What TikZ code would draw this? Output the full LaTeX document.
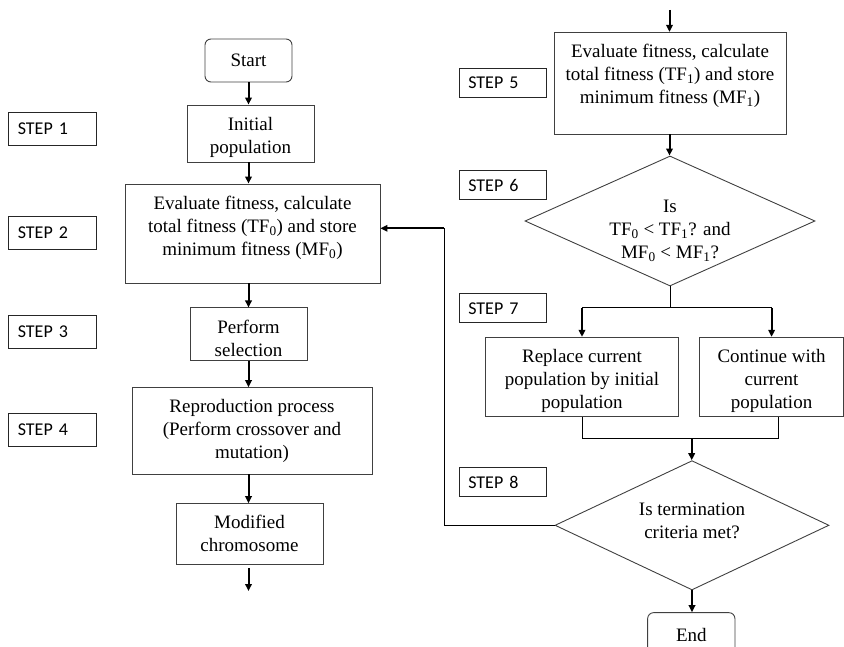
\documentclass[tikz,border=0pt]{standalone}
\usepackage{fontspec}
\setmainfont{Liberation Serif}
\newfontfamily\stepfont{Carlito}
\usetikzlibrary{shapes.geometric,arrows.meta}

% struts that push the text of a box up or down
\newcommand\dnstrut[1]{\rule[-#1]{0pt}{#1}}
\newcommand\upstrut[1]{\rule{0pt}{#1}}

\tikzset{
  every node/.style={font=\fontsize{19}{23}\selectfont},
  box/.style={draw=black!75, line width=0.9pt, align=center, inner sep=2pt},
  term/.style={box, rounded corners=6pt},
  decision/.style={diamond, draw=black!75, line width=0.9pt, inner sep=0pt},
  stepbox/.style={
    draw=black!85,
    line width=0.9pt,
    font=\stepfont\fontsize{18}{22}\selectfont,
    align=left,
    inner xsep=9pt,
    inner ysep=0pt,
  },
  arr/.style={line width=2pt, -{Triangle[length=7pt,width=6.5pt]}},
  link/.style={line width=1pt},
}

\begin{document}
\begin{tikzpicture}[x=1pt, y=-1pt]
  \useasboundingbox (0,0) rectangle (844,647);

  % left column
  \coordinate (colL) at (248.5,0);
  \node[term, minimum width=87pt, minimum height=43pt] (start) at (248.5,60.5) {Start};
  \node[box, minimum width=127pt, minimum height=57pt] (init) at (250.5,133.5) {\upstrut{22pt}Initial\\population};
  \node[box, minimum width=255pt, minimum height=99pt] (eval0) at (252.5,233.5)
    {Evaluate fitness, calculate\\total fitness (TF\textsubscript{0}) and store\\minimum fitness (MF\textsubscript{0})\dnstrut{15pt}};
  \node[box, minimum width=117pt, minimum height=52.7pt] (select) at (248.5,334.3) {\upstrut{22pt}Perform\\selection};
  \node[box, minimum width=240pt, minimum height=86.3pt] (repro) at (252,430.8)
    {Reproduction process\\(Perform crossover and\\mutation)};
  \node[box, minimum width=147pt, minimum height=60.3pt] (modified) at (249.5,533.8) {Modified\\chromosome};
  \coordinate (outL) at (248.5,591);

  % step labels
  \begin{scope}[every node/.append style={stepbox, text width=70pt, minimum height=33pt}]
    \node (step1) at (52.8,129)   {STEP 1};
    \node (step2) at (52.8,232.8) {STEP 2};
    \node (step3) at (52.8,331.8) {STEP 3};
    \node (step4) at (52.8,429.8) {STEP 4};
  \end{scope}
  \begin{scope}[every node/.append style={stepbox, text width=69.4pt, minimum height=28.7pt}]
    \node (step5) at (503,83)    {STEP 5};
    \node (step6) at (503,185)   {STEP 6};
    \node (step7) at (503,308.3) {STEP 7};
    \node (step8) at (503,482)   {STEP 8};
  \end{scope}

  % right column
  \coordinate (inR) at (669.5,10);
  \node[box, minimum width=232pt, minimum height=101.7pt] (eval1) at (670,83.2)
    {Evaluate fitness, calculate\\total fitness (TF\textsubscript{1}) and store\\minimum fitness (MF\textsubscript{1})\dnstrut{19pt}};
  \node[decision, minimum width=290pt, minimum height=130pt,
    label={[align=center, yshift=-9.5pt]center:{Is\\TF\textsubscript{0} < TF\textsubscript{1}? and\\MF\textsubscript{0} < MF\textsubscript{1}?}}]
    (check) at (670,221) {};
  \coordinate (split) at (670,308);
  \node[box, minimum width=193pt, minimum height=79.4pt] (replace) at (582,377)
    {\upstrut{21pt}Replace current\\population by initial\\population};
  \node[box, minimum width=143.6pt, minimum height=79.4pt] (continue) at (771.6,377)
    {\upstrut{21pt}Continue with\\current\\population};
  \coordinate (merge) at (691.7,438.3);
  \node[decision, minimum width=274pt, minimum height=129.3pt,
    label={[align=center, yshift=4pt]center:{Is termination\\criteria met?}}]
    (stopcheck) at (692,525.3) {};
  \node[term, minimum width=87.3pt, minimum height=43.7pt] (end) at (691.3,634.5) {End};
  \coordinate (back) at (444.3,228.3);

  % connectors
  \draw[arr] (start.south -| colL) -- (init.north -| colL);
  \draw[arr] (init.south -| colL) -- (eval0.north -| colL);
  \draw[arr] (eval0.south -| colL) -- (select.north -| colL);
  \draw[arr] (select.south -| colL) -- (repro.north -| colL);
  \draw[arr] (repro.south -| colL) -- (modified.north -| colL);
  \draw[arr] ([yshift=-4pt]modified.south -| colL) -- (outL);

  \draw[arr] (inR) -- (eval1.north -| inR);
  \draw[arr] (eval1.south -| inR) -- (check.north -| inR);
  \draw[link] (check.south) -- (split);
  \draw[link] (replace.north |- split) -- (continue.north |- split);
  \draw[arr] (replace.north |- split) -- (replace.north);
  \draw[arr] (continue.north |- split) -- (continue.north);
  \draw[link] (replace.south) -- (replace.south |- merge)
    -- ([xshift=7.3pt]continue.south |- merge) -- ([xshift=7.3pt]continue.south);
  \draw[arr] (merge) -- (merge |- stopcheck.north);
  \draw[arr] (stopcheck.south) -- (stopcheck.south |- end.north);
  \draw[link] (stopcheck.west) -| (back);
  \draw[arr] (back) -- (back -| eval0.east);
\end{tikzpicture}
\end{document}
